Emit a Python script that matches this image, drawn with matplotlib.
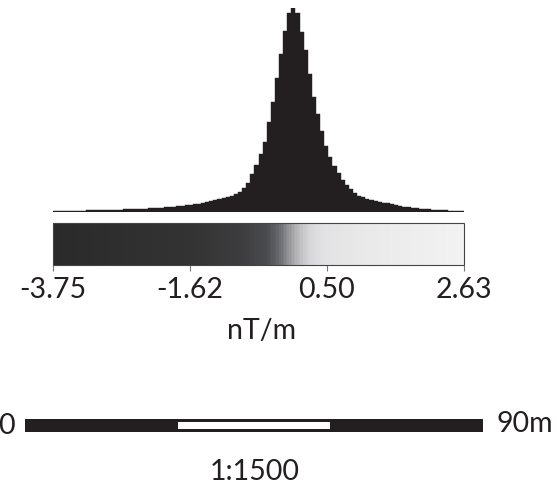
import numpy as np
import matplotlib
matplotlib.use("Agg")
import matplotlib.pyplot as plt
from matplotlib.colors import LinearSegmentedColormap
from matplotlib.cm import ScalarMappable
from matplotlib.colors import Normalize

# value range of the gradient (nT/m)
vmin, vmax = -3.75, 2.63
tick_values = [-3.75, -1.62, 0.50, 2.63]
tick_labels = ["-3.75", "-1.62", "0.50", "2.63"]
unit_label = "nT/m"

# histogram counts, 100 bins across vmin..vmax
counts = [
    1, 1, 1, 1, 1.5, 1.5, 1.5, 1.5, 2, 2,
    2, 2, 2, 2, 2.5, 2.5, 2.5, 3, 3, 3,
    3, 3.5, 3.5, 4, 4, 4.5, 4.5, 5, 5, 5.5,
    6, 6.5, 7, 7.5, 8, 8.5, 9, 10, 11, 12,
    13, 14, 15, 16.5, 18, 20, 24, 29, 38, 47,
    58, 70, 90, 110, 134, 158, 181, 199, 204, 199,
    180, 162, 138, 115, 98, 81, 66, 55, 46, 39,
    32, 27, 23, 19, 16.5, 15, 13.5, 12, 11, 10,
    9.5, 9, 8, 7.5, 6, 5.5, 5, 4.5, 4, 3.5,
    3, 3, 2.5, 2.5, 2, 2, 1.5, 1.5, 1, 1,
]

# scale bar
scale_segments = [0, 30, 60, 90]
scale_text = "1:1500"

ink = "#231f20"
grey_stops = [
    (0.000, "#2a2a2a"),
    (0.333, "#333333"),
    (0.455, "#3c3c3e"),
    (0.521, "#4a4b4f"),
    (0.552, "#6a6b70"),
    (0.577, "#9a9a9e"),
    (0.601, "#c0c0c2"),
    (0.625, "#d6d6d8"),
    (0.657, "#e2e2e4"),
    (0.779, "#eaeaea"),
    (1.000, "#f2f2f2"),
]
cmap = LinearSegmentedColormap.from_list("stretch", grey_stops)

plt.rcParams["font.family"] = ["Lato", "DejaVu Sans"]
fs = 20.5

W, H = 557, 495
fig = plt.figure(figsize=(W / 100, H / 100), dpi=100)


def px_axes(x0, y0, x1, y1):
    # axes from pixel box (top-left origin)
    return fig.add_axes([x0 / W, 1 - y1 / H, (x1 - x0) / W, (y1 - y0) / H])


# histogram
ax = px_axes(53, 8, 464, 212)
edges = np.linspace(vmin, vmax, len(counts) + 1)
ax.bar(edges[:-1], counts, width=np.diff(edges), align="edge",
       color=ink, edgecolor=ink, linewidth=0.3)
ax.set_xlim(vmin, vmax)
ax.set_ylim(0, max(counts))
ax.axis("off")

# colour bar
cax = px_axes(53, 223, 464, 265)
sm = ScalarMappable(norm=Normalize(vmin, vmax), cmap=cmap)
cb = fig.colorbar(sm, cax=cax, orientation="horizontal")
cb.outline.set_edgecolor("#444444")
cb.outline.set_linewidth(0.8)
cb.set_ticks(tick_values)
cb.set_ticklabels(tick_labels)
cax.tick_params(axis="x", length=4, width=0.8, color="#777777",
                labelsize=fs, labelcolor=ink, pad=5)
fig.text(262 / W, 1 - 318 / H, unit_label, fontsize=fs, color=ink,
         ha="center", va="top")

# scale bar
sax = px_axes(25, 419, 483, 432)
sax.barh(0, scale_segments[-1], left=0, height=1, color=ink)
sax.barh(0, scale_segments[2] - scale_segments[1], left=scale_segments[1],
         height=0.55, color="white")
sax.set_xlim(scale_segments[0], scale_segments[-1])
sax.set_ylim(-0.5, 0.5)
sax.axis("off")

fig.text(6 / W, 1 - 426 / H, "0", fontsize=fs, color=ink,
         ha="center", va="center")
fig.text(497 / W, 1 - 424 / H, "90m", fontsize=fs, color=ink,
         ha="left", va="center")
fig.text(255 / W, 1 - 472 / H, scale_text, fontsize=fs, color=ink,
         ha="center", va="center")

fig.savefig("out.png", dpi=100)
